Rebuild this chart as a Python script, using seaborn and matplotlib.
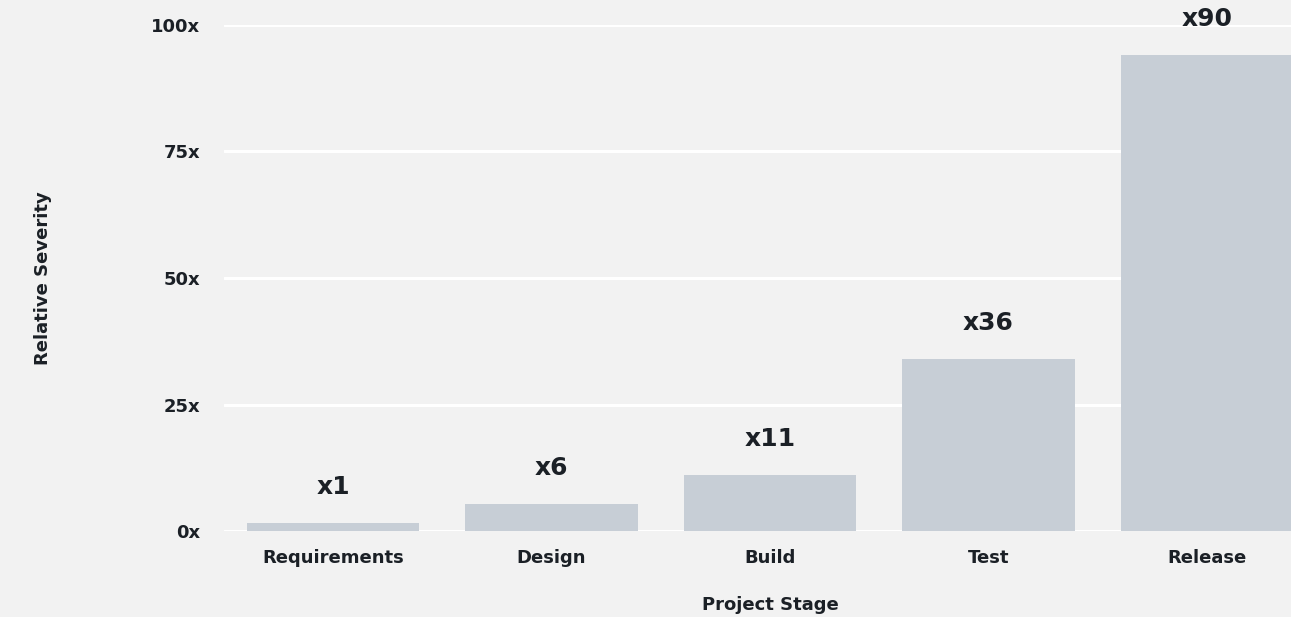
import matplotlib
matplotlib.use("Agg")
import matplotlib.pyplot as plt
import seaborn as sns
import pandas as pd

stages = ["Requirements", "Design", "Build", "Test", "Release"]
severity = [1.6, 5.4, 11.0, 34.0, 94.0]
bar_labels = ["x1", "x6", "x11", "x36", "x90"]
y_ticks = [0, 25, 50, 75, 100]
y_tick_labels = ["0x", "25x", "50x", "75x", "100x"]

BG = "#f2f2f2"
BAR = "#c7ced6"
TXT = "#1b2026"

sns.set_theme(style="white")
plt.rcParams["font.family"] = ["DejaVu Sans"]

df = pd.DataFrame({"stage": stages, "severity": severity})

fig = plt.figure(figsize=(12.91, 6.17), dpi=100, facecolor=BG)
ax = fig.add_axes([224 / 1291, 86 / 617, (1316 - 224) / 1291, (531 - 25) / 617])
ax.set_facecolor(BG)

sns.barplot(data=df, x="stage", y="severity", color=BAR, width=0.79,
            saturation=1, linewidth=0, edgecolor="none", ax=ax, zorder=3)

ax.set_xlim(-0.5, 4.5)
ax.set_ylim(0, 100)
ax.set_yticks(y_ticks)
ax.set_yticklabels(y_tick_labels)
ax.yaxis.grid(True, color="white", linewidth=2.2, zorder=0)
ax.xaxis.grid(False)
ax.set_axisbelow(True)
for s in ax.spines.values():
    s.set_visible(False)

FS = 13
ax.tick_params(axis="y", length=0, pad=17, labelsize=FS, labelcolor=TXT)
ax.tick_params(axis="x", length=0, pad=13, labelsize=FS, labelcolor=TXT)
for lab in ax.get_xticklabels() + ax.get_yticklabels():
    lab.set_fontweight("bold")

ax.set_xlabel("Project Stage", fontsize=FS, fontweight="bold", color=TXT)
ax.xaxis.set_label_coords(0.5, (617 - 605 - 86) / 506)
ax.xaxis.label.set_va("center")
ax.set_ylabel("Relative Severity", fontsize=FS, fontweight="bold", color=TXT)
ax.yaxis.set_label_coords((43 - 224) / 1092, 0.5)
ax.yaxis.label.set_va("center")

for i, (v, t) in enumerate(zip(severity, bar_labels)):
    ax.annotate(t, xy=(i, v), xytext=(0, 36), textcoords="offset pixels",
                ha="center", va="center", fontsize=18, fontweight="bold",
                color=TXT, annotation_clip=False, zorder=5)

fig.savefig("out.png", dpi=100, facecolor=BG)
